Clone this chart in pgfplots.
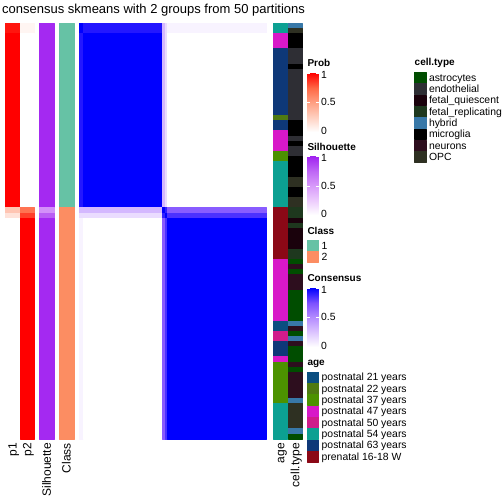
\documentclass[border=0pt]{standalone}
\usepackage{pgfplots}
\usepackage{pgfplotstable}
\pgfplotsset{compat=1.18}
\usepackage{fontspec}
\setmainfont{Liberation Sans}
\pgfplotsset{
 colormap={probcm}{rgb255=(255,255,255) rgb255=(255,207,191) rgb255=(255,158,129) rgb255=(255,104,70) rgb255=(255,0,0)},
 colormap={silcm}{rgb255=(255,255,255) rgb255=(237,205,253) rgb255=(216,155,250) rgb255=(190,102,245) rgb255=(160,32,240)},
 colormap={conscm}{rgb255=(255,255,255) rgb255=(220,196,255) rgb255=(179,138,255) rgb255=(125,81,255) rgb255=(0,0,255)},
 colormap={classcm}{rgb255=(102,194,165) rgb255=(252,141,98)},
 colormap={agecm}{rgb255=(11,78,128) rgb255=(79,122,18) rgb255=(76,146,0) rgb255=(216,24,200) rgb255=(208,28,139) rgb255=(12,160,146) rgb255=(14,56,120) rgb255=(139,8,22)},
 colormap={cellcm}{rgb255=(0,77,0) rgb255=(46,46,52) rgb255=(26,2,12) rgb255=(30,56,30) rgb255=(56,120,168) rgb255=(0,0,0) rgb255=(45,14,30) rgb255=(46,48,34)},
}
% consensus matrix blocks: column index c, row index r, consensus v
\pgfplotstableread{
c r v
0 0 1
2 0 1
2 2 1
0 2 1
2 0 0.93
36 0 0.93
36 2 0.93
2 2 0.93
36 0 0.3
37 0 0.3
37 2 0.3
36 2 0.3
37 0 0.15
38 0 0.15
38 2 0.15
37 2 0.15
38 0 0.05
81 0 0.05
81 2 0.05
38 2 0.05
0 2 0.93
2 2 0.93
2 36 0.93
0 36 0.93
2 2 1
36 2 1
36 36 1
2 36 1
36 2 0.3
37 2 0.3
37 36 0.3
36 36 0.3
37 2 0.15
38 2 0.15
38 36 0.15
37 36 0.15
38 2 0
81 2 0
81 36 0
38 36 0
0 36 0.3
2 36 0.3
2 37 0.3
0 37 0.3
2 36 0.3
36 36 0.3
36 37 0.3
2 37 0.3
36 36 1
37 36 1
37 37 1
36 37 1
37 36 0.9
38 36 0.9
38 37 0.9
37 37 0.9
38 36 0.7
81 36 0.7
81 37 0.7
38 37 0.7
0 37 0.15
2 37 0.15
2 38 0.15
0 38 0.15
2 37 0.15
36 37 0.15
36 38 0.15
2 38 0.15
36 37 0.9
37 37 0.9
37 38 0.9
36 38 0.9
37 37 1
38 37 1
38 38 1
37 38 1
38 37 0.85
81 37 0.85
81 38 0.85
38 38 0.85
0 38 0.05
2 38 0.05
2 81 0.05
0 81 0.05
2 38 0
36 38 0
36 81 0
2 81 0
36 38 0.7
37 38 0.7
37 81 0.7
36 81 0.7
37 38 0.85
38 38 0.85
38 81 0.85
37 81 0.85
38 38 1
81 38 1
81 81 1
38 81 1
}\constab
% membership probabilities p1 (x 5-19.7) and p2 (x 19.7-34.4)
\pgfplotstableread{
x r v
5 0 0.95
19.7 0 0.95
19.7 2 0.95
5 2 0.95
5 2 1
19.7 2 1
19.7 36 1
5 36 1
5 36 0.3
19.7 36 0.3
19.7 37 0.3
5 37 0.3
5 37 0.15
19.7 37 0.15
19.7 38 0.15
5 38 0.15
5 38 0
19.7 38 0
19.7 81 0
5 81 0
19.7 0 0.05
34.4 0 0.05
34.4 2 0.05
19.7 2 0.05
19.7 2 0
34.4 2 0
34.4 36 0
19.7 36 0
19.7 36 0.7
34.4 36 0.7
34.4 37 0.7
19.7 37 0.7
19.7 37 0.85
34.4 37 0.85
34.4 38 0.85
19.7 38 0.85
19.7 38 1
34.4 38 1
34.4 81 1
19.7 81 1
}\probtab
\pgfplotstableread{
x r v
39.3 0 0.97
54 0 0.97
54 36 0.97
39.3 36 0.97
39.3 36 0.55
54 36 0.55
54 37 0.55
39.3 37 0.55
39.3 37 0.78
54 37 0.78
54 38 0.78
39.3 38 0.78
39.3 38 0.97
54 38 0.97
54 81 0.97
39.3 81 0.97
}\siltab
\pgfplotstableread{
x r v
59 0 0
73.7 0 0
73.7 36 0
59 36 0
59 36 1
73.7 36 1
73.7 81 1
59 81 1
}\classtab
% age: 0 p21, 1 p22, 2 p37, 3 p47, 4 p50, 5 p54, 6 p63, 7 prenatal
\pgfplotstableread{
x r v
0 0 5
1 0 5
1 2 5
0 2 5
0 2 3
1 2 3
1 5 3
0 5 3
0 5 6
1 5 6
1 18 6
0 18 6
0 18 1
1 18 1
1 19 1
0 19 1
0 19 6
1 19 6
1 21 6
0 21 6
0 21 3
1 21 3
1 25 3
0 25 3
0 25 2
1 25 2
1 27 2
0 27 2
0 27 5
1 27 5
1 36 5
0 36 5
0 36 7
1 36 7
1 46 7
0 46 7
0 46 3
1 46 3
1 58 3
0 58 3
0 58 0
1 58 0
1 60 0
0 60 0
0 60 4
1 60 4
1 62 4
0 62 4
0 62 6
1 62 6
1 65 6
0 65 6
0 65 3
1 65 3
1 66 3
0 66 3
0 66 2
1 66 2
1 74 2
0 74 2
0 74 5
1 74 5
1 81 5
0 81 5
}\agetab
% cell type: 0 astro, 1 endo, 2 fetal_q, 3 fetal_r, 4 hybrid, 5 microglia, 6 neurons, 7 OPC
\pgfplotstableread{
x r v
0 0 4
1 0 4
1 1 4
0 1 4
0 1 7
1 1 7
1 2 7
0 2 7
0 2 5
1 2 5
1 5 5
0 5 5
0 5 1
1 5 1
1 8 1
0 8 1
0 8 5
1 8 5
1 9 5
0 9 5
0 9 1
1 9 1
1 19 1
0 19 1
0 19 5
1 19 5
1 22 5
0 22 5
0 22 1
1 22 1
1 23 1
0 23 1
0 23 5
1 23 5
1 24 5
0 24 5
0 24 1
1 24 1
1 26 1
0 26 1
0 26 5
1 26 5
1 30 5
0 30 5
0 30 7
1 30 7
1 32 7
0 32 7
0 32 5
1 32 5
1 34 5
0 34 5
0 34 7
1 34 7
1 36 7
0 36 7
0 36 3
1 36 3
1 38 3
0 38 3
0 38 2
1 38 2
1 39 2
0 39 2
0 39 3
1 39 3
1 40 3
0 40 3
0 40 2
1 40 2
1 44 2
0 44 2
0 44 3
1 44 3
1 46 3
0 46 3
0 46 0
1 46 0
1 47 0
0 47 0
0 47 6
1 47 6
1 48 6
0 48 6
0 48 0
1 48 0
1 49 0
0 49 0
0 49 6
1 49 6
1 52 6
0 52 6
0 52 0
1 52 0
1 58 0
0 58 0
0 58 4
1 58 4
1 59 4
0 59 4
0 59 6
1 59 6
1 60 6
0 60 6
0 60 0
1 60 0
1 61 0
0 61 0
0 61 4
1 61 4
1 62 4
0 62 4
0 62 6
1 62 6
1 63 6
0 63 6
0 63 0
1 63 0
1 66 0
0 66 0
0 66 6
1 66 6
1 67 6
0 67 6
0 67 0
1 67 0
1 68 0
0 68 0
0 68 6
1 68 6
1 73 6
0 73 6
0 73 4
1 73 4
1 74 4
0 74 4
0 74 7
1 74 7
1 79 7
0 79 7
0 79 4
1 79 4
1 80 4
0 80 4
0 80 0
1 80 0
1 81 0
0 81 0
}\celltab
% colour bar pieces
\pgfplotstableread{
x y v
0 59.2 0
11.3 59.2 0
11.3 44.4 0.25
0 44.4 0.25
0 44.4 0.25
11.3 44.4 0.25
11.3 29.6 0.5
0 29.6 0.5
0 29.6 0.5
11.3 29.6 0.5
11.3 14.8 0.75
0 14.8 0.75
0 14.8 0.75
11.3 14.8 0.75
11.3 0 1
0 0 1
}\bartab
% legend squares
\pgfplotstableread{
x r v
0 0.03 0
11.3 0.03 0
11.3 0.97 0
0 0.97 0
0 1.03 1
11.3 1.03 1
11.3 1.97 1
0 1.97 1
0 2.03 2
11.3 2.03 2
11.3 2.97 2
0 2.97 2
0 3.03 3
11.3 3.03 3
11.3 3.97 3
0 3.97 3
0 4.03 4
11.3 4.03 4
11.3 4.97 4
0 4.97 4
0 5.03 5
11.3 5.03 5
11.3 5.97 5
0 5.97 5
0 6.03 6
11.3 6.03 6
11.3 6.97 6
0 6.97 6
0 7.03 7
11.3 7.03 7
11.3 7.97 7
0 7.97 7
}\sqtab
\pgfplotstableread{
x r v
0 0.03 0
11.3 0.03 0
11.3 0.97 0
0 0.97 0
0 1.03 1
11.3 1.03 1
11.3 1.97 1
0 1.97 1
}\clsqtab
\newcommand{\lf}{\fontsize{10.4}{12}\selectfont}
\newcommand{\lt}{\fontsize{10}{12}\selectfont\bfseries}
\newcommand{\af}{\fontsize{12}{14}\selectfont}
\begin{document}
\begin{tikzpicture}
\begin{axis}[width=504pt, height=504pt, scale only axis,
  xmin=0, xmax=504, ymin=0, ymax=504, y dir=reverse,
  hide axis, clip=false, point meta min=0, point meta max=1,
  every axis plot/.append style={forget plot}]
\addplot[draw=none] coordinates {(0,0) (504,504)};
% consensus heatmap
\addplot[patch, patch type=rectangle, shader=flat corner, colormap name=conscm, point meta=explicit]
  table[x expr=79+2.317*\thisrow{c}, y expr=22.7+5.138*\thisrow{r}, meta=v] \constab;
% annotations
\addplot[patch, patch type=rectangle, shader=flat corner, colormap name=probcm, point meta=explicit]
  table[x=x, y expr=22.7+5.138*\thisrow{r}, meta=v] \probtab;
\addplot[patch, patch type=rectangle, shader=flat corner, colormap name=silcm, point meta=explicit]
  table[x=x, y expr=22.7+5.138*\thisrow{r}, meta=v] \siltab;
\addplot[patch, patch type=rectangle, shader=flat corner, colormap name=classcm, colormap access=direct, point meta=explicit]
  table[x=x, y expr=22.7+5.138*\thisrow{r}, meta=v] \classtab;
\addplot[patch, patch type=rectangle, shader=flat corner, colormap name=agecm, colormap access=direct, point meta=explicit]
  table[x expr=273+14*\thisrow{x}, y expr=22.7+5.138*\thisrow{r}, meta=v] \agetab;
\addplot[patch, patch type=rectangle, shader=flat corner, colormap name=cellcm, colormap access=direct, point meta=explicit]
  table[x expr=288+14*\thisrow{x}, y expr=22.7+5.138*\thisrow{r}, meta=v] \celltab;
% colour bars
\addplot[patch, patch type=rectangle, shader=interp, colormap name=probcm, point meta=explicit]
  table[x expr=307.3+\thisrow{x}, y expr=72.7+\thisrow{y}, meta=v] \bartab;
\addplot[patch, patch type=rectangle, shader=interp, colormap name=silcm, point meta=explicit]
  table[x expr=307.3+\thisrow{x}, y expr=156.2+\thisrow{y}, meta=v] \bartab;
\addplot[patch, patch type=rectangle, shader=interp, colormap name=conscm, point meta=explicit]
  table[x expr=307.3+\thisrow{x}, y expr=287.7+\thisrow{y}, meta=v] \bartab;
\addplot[white, line width=0.6pt, unbounded coords=jump] coordinates {
 (307.3,72.9) (310.1,72.9) (nan,nan) (315.8,72.9) (318.6,72.9) (nan,nan)
 (307.3,102.3) (310.1,102.3) (nan,nan) (315.8,102.3) (318.6,102.3) (nan,nan)
 (307.3,156.4) (310.1,156.4) (nan,nan) (315.8,156.4) (318.6,156.4) (nan,nan)
 (307.3,185.8) (310.1,185.8) (nan,nan) (315.8,185.8) (318.6,185.8) (nan,nan)
 (307.3,287.9) (310.1,287.9) (nan,nan) (315.8,287.9) (318.6,287.9) (nan,nan)
 (307.3,317.3) (310.1,317.3) (nan,nan) (315.8,317.3) (318.6,317.3)};
% legend squares
\addplot[patch, patch type=rectangle, shader=flat corner, colormap name=classcm, colormap access=direct, point meta=explicit]
  table[x expr=307.3+\thisrow{x}, y expr=239.9+11.34*\thisrow{r}, meta=v] \clsqtab;
\addplot[patch, patch type=rectangle, shader=flat corner, colormap name=agecm, colormap access=direct, point meta=explicit]
  table[x expr=307.3+\thisrow{x}, y expr=371.5+11.34*\thisrow{r}, meta=v] \sqtab;
\addplot[patch, patch type=rectangle, shader=flat corner, colormap name=cellcm, colormap access=direct, point meta=explicit]
  table[x expr=414.5+\thisrow{x}, y expr=71.7+11.34*\thisrow{r}, meta=v] \sqtab;
% texts
\node[anchor=base west, inner sep=0, font=\fontsize{13}{15}\selectfont] at (axis cs:2,13.5) {consensus skmeans with 2 groups from 50 partitions};
\node[rotate=90, anchor=base east, inner sep=0, font=\af] at (axis cs:16.6,443) {p1};
\node[rotate=90, anchor=base east, inner sep=0, font=\af] at (axis cs:31.3,443) {p2};
\node[rotate=90, anchor=base east, inner sep=0, font=\af] at (axis cs:50.9,443) {Silhouette};
\node[rotate=90, anchor=base east, inner sep=0, font=\af] at (axis cs:70.6,443) {Class};
\node[rotate=90, anchor=base east, inner sep=0, font=\af] at (axis cs:284.3,443) {age};
\node[rotate=90, anchor=base east, inner sep=0, font=\af] at (axis cs:299.3,443) {cell.type};
% legend titles
\node[anchor=base west, inner sep=0, font=\lt] at (axis cs:307.3,66.9) {Prob};
\node[anchor=base west, inner sep=0, font=\lt] at (axis cs:307.3,150.4) {Silhouette};
\node[anchor=base west, inner sep=0, font=\lt] at (axis cs:307.3,234.1) {Class};
\node[anchor=base west, inner sep=0, font=\lt] at (axis cs:307.3,281.9) {Consensus};
\node[anchor=base west, inner sep=0, font=\lt] at (axis cs:307.3,365.5) {age};
\node[anchor=base west, inner sep=0, font=\lt] at (axis cs:414.5,65.9) {cell.type};
% colour bar labels
\node[anchor=base west, inner sep=0, font=\lf] at (axis cs:321,78.3) {1};
\node[anchor=base west, inner sep=0, font=\lf] at (axis cs:321,105.9) {0.5};
\node[anchor=base west, inner sep=0, font=\lf] at (axis cs:321,134.3) {0};
\node[anchor=base west, inner sep=0, font=\lf] at (axis cs:321,161.8) {1};
\node[anchor=base west, inner sep=0, font=\lf] at (axis cs:321,189.4) {0.5};
\node[anchor=base west, inner sep=0, font=\lf] at (axis cs:321,217.8) {0};
\node[anchor=base west, inner sep=0, font=\lf] at (axis cs:321,293.3) {1};
\node[anchor=base west, inner sep=0, font=\lf] at (axis cs:321,320.9) {0.5};
\node[anchor=base west, inner sep=0, font=\lf] at (axis cs:321,349.3) {0};
% class labels
\node[anchor=base west, inner sep=0, font=\lf] at (axis cs:321.5,249.2) {1};
\node[anchor=base west, inner sep=0, font=\lf] at (axis cs:321.5,260.5) {2};
% age labels
\node[anchor=base west, inner sep=0, font=\lf] at (axis cs:321.5,380.8) {postnatal 21 years};
\node[anchor=base west, inner sep=0, font=\lf] at (axis cs:321.5,392.1) {postnatal 22 years};
\node[anchor=base west, inner sep=0, font=\lf] at (axis cs:321.5,403.5) {postnatal 37 years};
\node[anchor=base west, inner sep=0, font=\lf] at (axis cs:321.5,414.8) {postnatal 47 years};
\node[anchor=base west, inner sep=0, font=\lf] at (axis cs:321.5,426.1) {postnatal 50 years};
\node[anchor=base west, inner sep=0, font=\lf] at (axis cs:321.5,437.5) {postnatal 54 years};
\node[anchor=base west, inner sep=0, font=\lf] at (axis cs:321.5,448.8) {postnatal 63 years};
\node[anchor=base west, inner sep=0, font=\lf] at (axis cs:321.5,460.2) {prenatal 16-18 W};
% cell type labels
\node[anchor=base west, inner sep=0, font=\lf] at (axis cs:428.8,81.0) {astrocytes};
\node[anchor=base west, inner sep=0, font=\lf] at (axis cs:428.8,92.3) {endothelial};
\node[anchor=base west, inner sep=0, font=\lf] at (axis cs:428.8,103.7) {fetal\_quiescent};
\node[anchor=base west, inner sep=0, font=\lf] at (axis cs:428.8,115.0) {fetal\_replicating};
\node[anchor=base west, inner sep=0, font=\lf] at (axis cs:428.8,126.3) {hybrid};
\node[anchor=base west, inner sep=0, font=\lf] at (axis cs:428.8,137.7) {microglia};
\node[anchor=base west, inner sep=0, font=\lf] at (axis cs:428.8,149.0) {neurons};
\node[anchor=base west, inner sep=0, font=\lf] at (axis cs:428.8,160.4) {OPC};
\end{axis}
\end{tikzpicture}
\end{document}
